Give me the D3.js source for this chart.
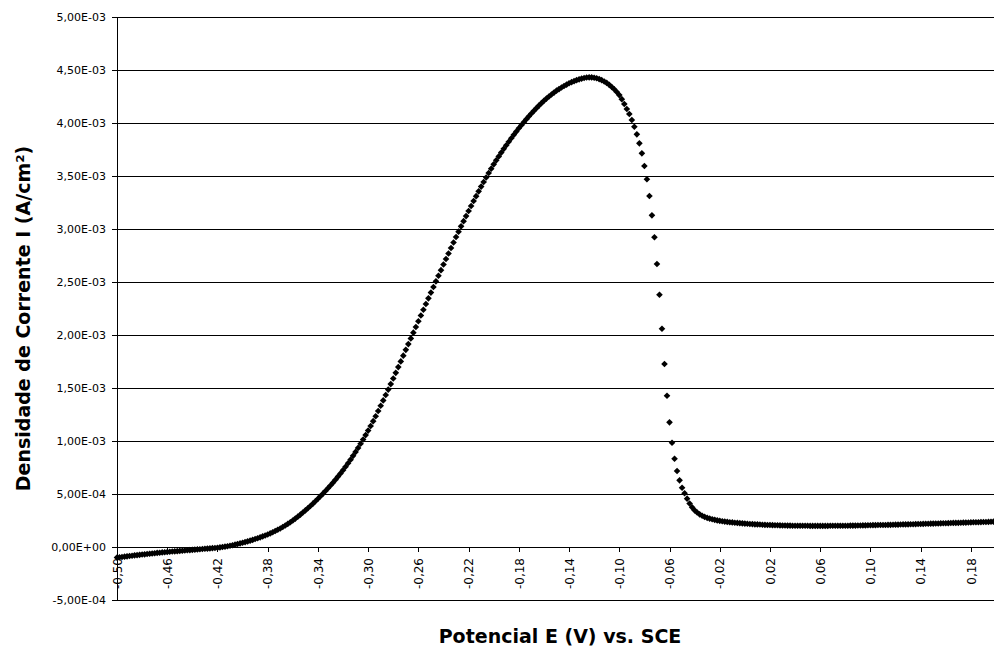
<!DOCTYPE html>
<html>
<head>
<meta charset="utf-8">
<script src="https://cdn.jsdelivr.net/npm/d3@7"></script>
<style>
  body { margin: 0; background: #fff; }
  svg { display: block; background: #fff; }
  .axis path, .axis line { stroke: #000; }
  .axis text { fill: #000; }
</style>
</head>
<body>
<svg id="chart" width="994" height="651"></svg>
<script>
// Potencial E (V) vs. SCE
const potencial = [
  -0.500,-0.498,-0.496,-0.494,-0.492,-0.490,-0.488,-0.486,-0.484,-0.482,
  -0.480,-0.478,-0.476,-0.474,-0.472,-0.470,-0.468,-0.466,-0.464,-0.462,
  -0.460,-0.458,-0.456,-0.454,-0.452,-0.450,-0.448,-0.446,-0.444,-0.442,
  -0.440,-0.438,-0.436,-0.434,-0.432,-0.430,-0.428,-0.426,-0.424,-0.422,
  -0.420,-0.418,-0.416,-0.414,-0.412,-0.410,-0.408,-0.406,-0.404,-0.402,
  -0.400,-0.398,-0.396,-0.394,-0.392,-0.390,-0.388,-0.386,-0.384,-0.382,
  -0.380,-0.378,-0.376,-0.374,-0.372,-0.370,-0.368,-0.366,-0.364,-0.362,
  -0.360,-0.358,-0.356,-0.354,-0.352,-0.350,-0.348,-0.346,-0.344,-0.342,
  -0.340,-0.338,-0.336,-0.334,-0.332,-0.330,-0.328,-0.326,-0.324,-0.322,
  -0.320,-0.318,-0.316,-0.314,-0.312,-0.310,-0.308,-0.306,-0.304,-0.302,
  -0.300,-0.298,-0.296,-0.294,-0.292,-0.290,-0.288,-0.286,-0.284,-0.282,
  -0.280,-0.278,-0.276,-0.274,-0.272,-0.270,-0.268,-0.266,-0.264,-0.262,
  -0.260,-0.258,-0.256,-0.254,-0.252,-0.250,-0.248,-0.246,-0.244,-0.242,
  -0.240,-0.238,-0.236,-0.234,-0.232,-0.230,-0.228,-0.226,-0.224,-0.222,
  -0.220,-0.218,-0.216,-0.214,-0.212,-0.210,-0.208,-0.206,-0.204,-0.202,
  -0.200,-0.198,-0.196,-0.194,-0.192,-0.190,-0.188,-0.186,-0.184,-0.182,
  -0.180,-0.178,-0.176,-0.174,-0.172,-0.170,-0.168,-0.166,-0.164,-0.162,
  -0.160,-0.158,-0.156,-0.154,-0.152,-0.150,-0.148,-0.146,-0.144,-0.142,
  -0.140,-0.138,-0.136,-0.134,-0.132,-0.130,-0.128,-0.126,-0.124,-0.122,
  -0.120,-0.118,-0.116,-0.114,-0.112,-0.110,-0.108,-0.106,-0.104,-0.102,
  -0.100,-0.098,-0.096,-0.094,-0.092,-0.090,-0.088,-0.086,-0.084,-0.082,
  -0.080,-0.078,-0.076,-0.074,-0.072,-0.070,-0.068,-0.066,-0.064,-0.062,
  -0.060,-0.058,-0.056,-0.054,-0.052,-0.050,-0.048,-0.046,-0.044,-0.042,
  -0.040,-0.038,-0.036,-0.034,-0.032,-0.030,-0.028,-0.026,-0.024,-0.022,
  -0.020,-0.018,-0.016,-0.014,-0.012,-0.010,-0.008,-0.006,-0.004,-0.002,
   0.000, 0.002, 0.004, 0.006, 0.008, 0.010, 0.012, 0.014, 0.016, 0.018,
   0.020, 0.022, 0.024, 0.026, 0.028, 0.030, 0.032, 0.034, 0.036, 0.038,
   0.040, 0.042, 0.044, 0.046, 0.048, 0.050, 0.052, 0.054, 0.056, 0.058,
   0.060, 0.062, 0.064, 0.066, 0.068, 0.070, 0.072, 0.074, 0.076, 0.078,
   0.080, 0.082, 0.084, 0.086, 0.088, 0.090, 0.092, 0.094, 0.096, 0.098,
   0.100, 0.102, 0.104, 0.106, 0.108, 0.110, 0.112, 0.114, 0.116, 0.118,
   0.120, 0.122, 0.124, 0.126, 0.128, 0.130, 0.132, 0.134, 0.136, 0.138,
   0.140, 0.142, 0.144, 0.146, 0.148, 0.150, 0.152, 0.154, 0.156, 0.158,
   0.160, 0.162, 0.164, 0.166, 0.168, 0.170, 0.172, 0.174, 0.176, 0.178,
   0.180, 0.182, 0.184, 0.186, 0.188, 0.190, 0.192, 0.194, 0.196, 0.198
];

// Densidade de corrente, em mA/cm² (o eixo mostra A/cm²)
const corrente = [
  -0.100,-0.097,-0.094,-0.091,-0.088,-0.085,-0.082,-0.079,-0.077,-0.074,
  -0.071,-0.069,-0.066,-0.064,-0.061,-0.059,-0.056,-0.054,-0.051,-0.049,
  -0.047,-0.045,-0.043,-0.041,-0.039,-0.037,-0.035,-0.033,-0.031,-0.029,
  -0.027,-0.025,-0.023,-0.021,-0.019,-0.017,-0.015,-0.013,-0.011,-0.009,
  -0.007,-0.004, 0.000, 0.003, 0.007, 0.012, 0.017, 0.022, 0.028, 0.034,
   0.040, 0.046, 0.053, 0.060, 0.067, 0.075, 0.083, 0.091, 0.100, 0.109,
   0.118, 0.128, 0.139, 0.151, 0.163, 0.175, 0.189, 0.203, 0.218, 0.234,
   0.250, 0.268, 0.286, 0.305, 0.325, 0.345, 0.366, 0.387, 0.409, 0.432,
   0.455, 0.479, 0.503, 0.528, 0.554, 0.580, 0.607, 0.635, 0.664, 0.694,
   0.725, 0.757, 0.790, 0.824, 0.860, 0.897, 0.935, 0.974, 1.014, 1.056,
   1.098, 1.142, 1.187, 1.233, 1.283, 1.333, 1.383, 1.434, 1.485, 1.537,
   1.590, 1.643, 1.697, 1.751, 1.805, 1.860, 1.914, 1.968, 2.022, 2.076,
   2.130, 2.184, 2.238, 2.292, 2.346, 2.400, 2.453, 2.506, 2.559, 2.612,
   2.665, 2.717, 2.769, 2.821, 2.873, 2.925, 2.975, 3.025, 3.074, 3.122,
   3.170, 3.217, 3.264, 3.310, 3.355, 3.400, 3.443, 3.486, 3.528, 3.569,
   3.610, 3.648, 3.685, 3.721, 3.756, 3.790, 3.823, 3.856, 3.888, 3.919,
   3.950, 3.979, 4.008, 4.036, 4.063, 4.090, 4.115, 4.140, 4.164, 4.187,
   4.210, 4.230, 4.250, 4.269, 4.287, 4.305, 4.320, 4.335, 4.349, 4.362,
   4.375, 4.385, 4.395, 4.404, 4.412, 4.419, 4.425, 4.429, 4.431, 4.430,
   4.427, 4.422, 4.414, 4.404, 4.392, 4.378, 4.360, 4.340, 4.318, 4.292,
   4.263, 4.225, 4.179, 4.132, 4.085, 4.028, 3.965, 3.893, 3.808, 3.714,
   3.594, 3.469, 3.311, 3.129, 2.922, 2.670, 2.380, 2.059, 1.726, 1.427,
   1.176, 0.984, 0.833, 0.717, 0.629, 0.559, 0.507, 0.456, 0.410, 0.374,
   0.346, 0.325, 0.308, 0.295, 0.284, 0.275, 0.268, 0.262, 0.256, 0.251,
   0.247, 0.243, 0.240, 0.237, 0.234, 0.232, 0.229, 0.227, 0.225, 0.223,
   0.221, 0.219, 0.217, 0.216, 0.214, 0.213, 0.212, 0.210, 0.209, 0.208,
   0.207, 0.206, 0.205, 0.205, 0.204, 0.203, 0.203, 0.202, 0.202, 0.201,
   0.201, 0.201, 0.200, 0.200, 0.200, 0.200, 0.199, 0.199, 0.199, 0.199,
   0.199, 0.199, 0.199, 0.199, 0.200, 0.200, 0.200, 0.200, 0.200, 0.201,
   0.201, 0.201, 0.202, 0.202, 0.202, 0.203, 0.203, 0.204, 0.204, 0.205,
   0.205, 0.206, 0.206, 0.207, 0.207, 0.208, 0.208, 0.209, 0.209, 0.210,
   0.211, 0.211, 0.212, 0.213, 0.213, 0.214, 0.215, 0.215, 0.216, 0.217,
   0.217, 0.218, 0.219, 0.219, 0.220, 0.221, 0.222, 0.222, 0.223, 0.224,
   0.224, 0.225, 0.226, 0.227, 0.227, 0.228, 0.229, 0.230, 0.230, 0.231,
   0.232, 0.233, 0.233, 0.234, 0.235, 0.236, 0.236, 0.237, 0.238, 0.239
];

// ticks (mA/cm² no eixo y, V no eixo x)
const yTicks = [-0.5, 0, 0.5, 1, 1.5, 2, 2.5, 3, 3.5, 4, 4.5, 5];
const xTicks = [-0.50, -0.46, -0.42, -0.38, -0.34, -0.30, -0.26, -0.22, -0.18,
                -0.14, -0.10, -0.06, -0.02, 0.02, 0.06, 0.10, 0.14, 0.18];

const xTitle = "Potencial E (V) vs. SCE";
const yTitle = "Densidade de Corrente I (A/cm²)";

const svg = d3.select("#chart");
const margem = { esq: 117, dir: 996, sup: 17, inf: 600 };

const x = d3.scaleLinear().domain([-0.5, 0.2]).range([margem.esq, margem.dir]);
const y = d3.scaleLinear().domain([-0.5, 5]).range([margem.inf, margem.sup]);

// 5,00E-03 style
function fmtE(v) {
  const s = (v / 1000).toExponential(2);
  const [m, e] = s.split("e");
  const sign = e[0] === "-" ? "-" : "+";
  const digits = e.replace(/[+-]/, "").padStart(2, "0");
  return m.replace(".", ",") + "E" + sign + digits;
}
const fmtX = v => v.toFixed(2).replace(".", ",");

// linhas de grade
svg.append("g")
  .selectAll("line")
  .data(yTicks)
  .join("line")
  .attr("x1", margem.esq)
  .attr("x2", margem.dir)
  .attr("y1", d => y(d) + 0.5)
  .attr("y2", d => y(d) + 0.5)
  .attr("stroke", "#000")
  .attr("stroke-width", 1)
  .attr("shape-rendering", "crispEdges");

// eixo y
const yAxis = svg.append("g")
  .attr("class", "axis")
  .attr("transform", `translate(${margem.esq},0)`)
  .call(d3.axisLeft(y).tickValues(yTicks).tickSize(5).tickSizeOuter(0).tickPadding(6).tickFormat(fmtE));
yAxis.selectAll("text")
  .style("font-family", "'DejaVu Sans', sans-serif")
  .style("font-size", "11px");
yAxis.selectAll("path, line").attr("shape-rendering", "crispEdges");

// eixo x (cruza em zero)
const xAxis = svg.append("g")
  .attr("class", "axis")
  .attr("transform", `translate(0,${y(0)})`)
  .call(d3.axisBottom(x).tickValues(xTicks).tickSize(5).tickSizeOuter(0).tickFormat(fmtX));
xAxis.selectAll("text")
  .attr("transform", "rotate(-90)")
  .attr("x", -11)
  .attr("y", 0)
  .attr("dy", "0.35em")
  .style("text-anchor", "end")
  .style("font-family", "'DejaVu Sans', sans-serif")
  .style("font-size", "12px");
xAxis.selectAll("path, line").attr("shape-rendering", "crispEdges");

// pontos (losangos)
const diamond = d3.symbol(d3.symbolSquare, 22);
svg.append("g")
  .selectAll("path")
  .data(d3.zip(potencial, corrente))
  .join("path")
  .attr("d", diamond)
  .attr("transform", d => `translate(${x(d[0])},${y(d[1])}) rotate(45)`)
  .attr("fill", "#000");

// títulos dos eixos
svg.append("text")
  .attr("x", 560)
  .attr("y", 643)
  .attr("text-anchor", "middle")
  .style("font-family", "'DejaVu Sans', sans-serif")
  .style("font-weight", "bold")
  .style("font-size", "19px")
  .text(xTitle);

svg.append("text")
  .attr("transform", `translate(30,${(margem.sup + margem.inf) / 2 + 10}) rotate(-90)`)
  .attr("text-anchor", "middle")
  .style("font-family", "'DejaVu Sans', sans-serif")
  .style("font-weight", "bold")
  .style("font-size", "19px")
  .text(yTitle);
</script>
</body>
</html>
